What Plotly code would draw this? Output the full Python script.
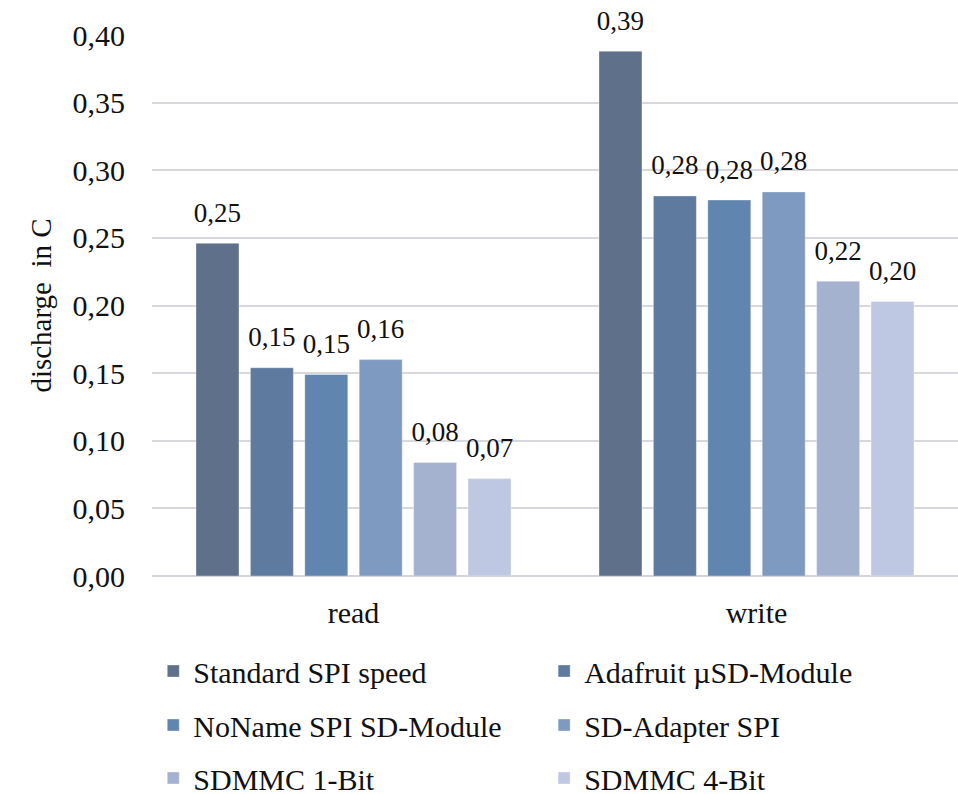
import plotly.graph_objects as go

# Discharge per access mode for each SD card interface
categories = ["read", "write"]
series_names = [
    "Standard SPI speed",
    "Adafruit µSD-Module",
    "NoName SPI SD-Module",
    "SD-Adapter SPI",
    "SDMMC 1-Bit",
    "SDMMC 4-Bit",
]
standard_spi = [0.246, 0.388]
adafruit = [0.154, 0.281]
noname = [0.149, 0.278]
sd_adapter = [0.160, 0.284]
sdmmc_1bit = [0.084, 0.218]
sdmmc_4bit = [0.072, 0.203]
values = [standard_spi, adafruit, noname, sd_adapter, sdmmc_1bit, sdmmc_4bit]

y_ticks = [0.0, 0.05, 0.10, 0.15, 0.20, 0.25, 0.30, 0.35, 0.40]

colors = ["#5E708A", "#5E7A9E", "#6085AF", "#7F9AC0", "#A4B2D0", "#BEC8E2"]
FONT = "Liberation Serif"
INK = "#111111"

# two legend columns, three rows; one legend box per entry
legend_cols = [0.160, 0.568]
legend_rows = [671, 725, 778]

fig = go.Figure()
legend_layout = {}
for i, (name, vals, col) in enumerate(zip(series_names, values, colors)):
    lg = "legend" if i == 0 else f"legend{i + 1}"
    fig.add_trace(go.Bar(
        x=categories,
        y=vals,
        name=name,
        marker=dict(color=col, line=dict(color="rgba(255,255,255,0.35)", width=1)),
        offsetgroup=str(i),
        legend=lg,
        hoverinfo="skip",
    ))
    # value labels, grouped the same way as the bars
    fig.add_trace(go.Scatter(
        x=categories,
        y=vals,
        mode="markers+text",
        text=[f"{v:.2f}".replace(".", ",") for v in vals],
        textposition="top center",
        textfont=dict(family=FONT, size=27, color=INK),
        marker=dict(size=22, color="rgba(0,0,0,0)"),
        offsetgroup=str(i),
        showlegend=False,
        cliponaxis=False,
        hoverinfo="skip",
    ))
    legend_layout[lg] = dict(
        orientation="h",
        xref="container",
        yref="container",
        x=legend_cols[i % 2],
        y=1 - legend_rows[i // 2] / 794,
        xanchor="left",
        yanchor="middle",
        font=dict(family=FONT, size=30, color=INK),
        bgcolor="rgba(0,0,0,0)",
        itemwidth=30,
    )

fig.update_layout(
    width=958,
    height=794,
    margin=dict(l=152, r=0, t=35, b=218),
    plot_bgcolor="white",
    paper_bgcolor="white",
    separators=",.",
    barmode="group",
    bargap=0.19,
    bargroupgap=0.21,
    scattermode="group",
    scattergap=0.19,
    font=dict(family=FONT, size=30, color=INK),
    showlegend=True,
    xaxis=dict(
        type="category",
        showgrid=False,
        showline=False,
        ticks="",
        ticklabelstandoff=16,
        tickfont=dict(family=FONT, size=30, color=INK),
    ),
    yaxis=dict(
        range=[0, 0.4],
        tickvals=y_ticks,
        tickformat=".2f",
        showgrid=True,
        gridcolor="#DAD6DE",
        gridwidth=1.5,
        zeroline=True,
        zerolinecolor="#D6D2DA",
        zerolinewidth=2,
        showline=False,
        ticks="",
        ticklabelstandoff=26,
        tickfont=dict(family=FONT, size=30, color=INK),
        title=dict(text="discharge  in C", standoff=12,
                   font=dict(family=FONT, size=29, color=INK)),
    ),
    **legend_layout,
)

fig.write_html("out.html")
